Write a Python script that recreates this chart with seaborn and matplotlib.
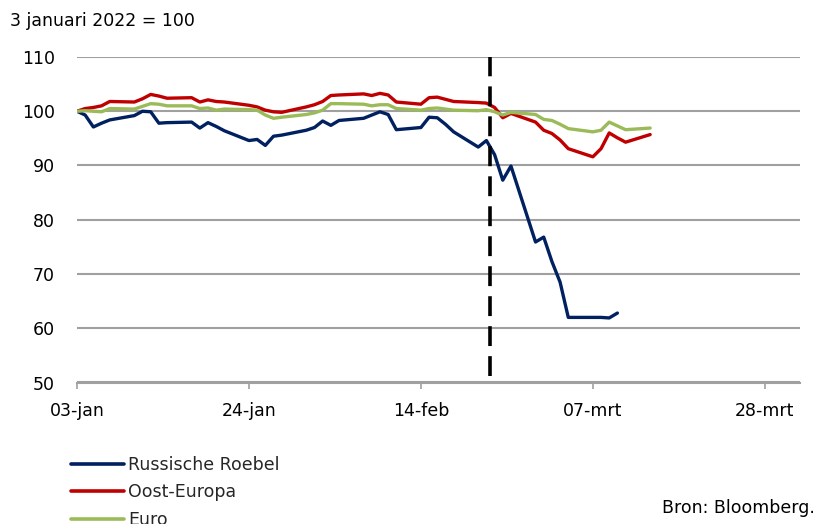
import matplotlib
matplotlib.use("Agg")
import matplotlib.pyplot as plt
from matplotlib.lines import Line2D
import seaborn as sns
import pandas as pd
import numpy as np

dates = pd.bdate_range("2022-01-03", "2022-03-14")

roebel = [100, 99.3, 97.1, 97.8, 98.4,
          99.2, 100.0, 99.9, 97.8, 97.9,
          98.0, 96.9, 97.9, 97.2, 96.4,
          94.6, 94.8, 93.7, 95.4, 95.6,
          96.5, 97.0, 98.2, 97.4, 98.3,
          98.7, 99.3, 99.9, 99.4, 96.6,
          97.0, 98.9, 98.8, 97.6, 96.2,
          93.4, 94.6, 92.0, 87.3, 89.9,
          75.9, 76.8, 72.3, 68.5, 62.0,
          62.0, 62.0, 61.9, 62.8, np.nan,
          np.nan]
oost = [100, 100.5, 100.7, 101.0, 101.8,
        101.7, 102.3, 103.1, 102.8, 102.4,
        102.5, 101.7, 102.1, 101.8, 101.7,
        101.1, 100.8, 100.2, 99.9, 99.8,
        100.8, 101.2, 101.8, 102.9, 103.0,
        103.2, 102.9, 103.3, 103.0, 101.7,
        101.3, 102.5, 102.6, 102.2, 101.8,
        101.6, 101.5, 100.7, 98.8, 99.6,
        98.0, 96.5, 95.9, 94.7, 93.1,
        91.6, 93.1, 96.0, 95.1, 94.3,
        95.7]
euro = [100, 100.1, 100.0, 99.9, 100.5,
        100.4, 100.9, 101.4, 101.3, 101.0,
        101.0, 100.5, 100.6, 100.2, 100.4,
        100.3, 100.2, 99.3, 98.7, 98.9,
        99.4, 99.7, 100.2, 101.4, 101.4,
        101.3, 101.0, 101.2, 101.2, 100.5,
        100.2, 100.5, 100.6, 100.4, 100.2,
        100.1, 100.3, 99.9, 99.3, 99.8,
        99.4, 98.5, 98.3, 97.6, 96.8,
        96.2, 96.5, 98.0, 97.3, 96.6,
        96.9]

series_names = ["Russische Roebel", "Oost-Europa", "Euro"]
colors = ["#002060", "#C00000", "#9BBB59"]
tick_dates = ["2022-01-03", "2022-01-24", "2022-02-14", "2022-03-07", "2022-03-28"]
tick_labels = ["03-jan", "24-jan", "14-feb", "07-mrt", "28-mrt"]
y_ticks = [50, 60, 70, 80, 90, 100, 110]
event_date = "2022-02-22 12:00"

df = pd.DataFrame({"datum": list(dates) * 3,
                   "waarde": roebel + oost + euro,
                   "reeks": sum([[n] * len(dates) for n in series_names], [])})

sns.set_theme(style="white")
plt.rcParams["font.family"] = ["DejaVu Sans"]

fig = plt.figure(figsize=(8.18, 5.24), dpi=100)
ax = fig.add_axes([77 / 818, 1 - 382.5 / 524, (800 - 77) / 818, (382.5 - 57) / 524])

sns.lineplot(data=df, x="datum", y="waarde", hue="reeks", hue_order=series_names,
             palette=colors, linewidth=2.4, ax=ax, legend=False, zorder=3)

ax.axvline(pd.Timestamp(event_date), ymin=0.02, ymax=1, color="black",
           linewidth=2.6, linestyle=(0, (5.5, 2.8)), zorder=4)

ax.set_ylim(50, 110)
ax.set_yticks(y_ticks)
ax.set_xlim(pd.Timestamp("2022-01-03"), pd.Timestamp("2022-01-03") + pd.Timedelta(days=88.3))
ax.set_xticks([pd.Timestamp(d) for d in tick_dates])
ax.set_xticklabels(tick_labels)

ax.grid(axis="y", color="#A0A0A0", linewidth=1.5, zorder=1)
ax.grid(axis="x", visible=False)
for s in ["top", "right", "left"]:
    ax.spines[s].set_visible(False)
ax.spines["bottom"].set_color("#A0A0A0")
ax.spines["bottom"].set_linewidth(1.5)
ax.tick_params(axis="x", which="major", direction="out", length=4, width=1.2,
               color="#A0A0A0", pad=10, labelsize=12.5, labelcolor="black", bottom=True)
ax.tick_params(axis="y", length=0, pad=16, labelsize=12.5, labelcolor="black")
ax.set_xlabel("")
ax.set_ylabel("")

fig.text(10 / 818, 1 - 21 / 524, "3 januari 2022 = 100", fontsize=12.5,
         ha="left", va="center", color="black")
fig.text(815 / 818, 1 - 508 / 524, "Bron: Bloomberg.", fontsize=12.5,
         ha="right", va="center", color="black")

handles = [Line2D([0], [0], color=c, linewidth=2.6) for c in colors]
leg = fig.legend(handles, series_names, loc="upper left",
                 bbox_to_anchor=(64 / 818, 1 - 449 / 524), frameon=False,
                 fontsize=12.5, handlelength=3.05, handletextpad=0.25,
                 labelspacing=0.55, borderaxespad=0)

fig.savefig("out.png", dpi=100)
